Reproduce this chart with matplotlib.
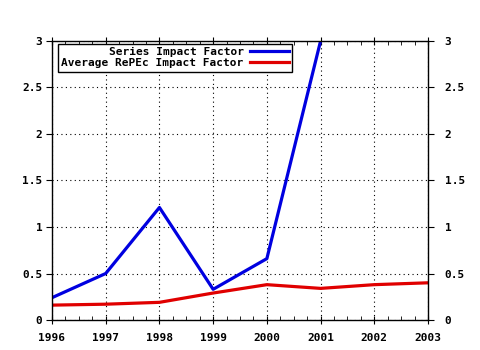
import numpy as np
import matplotlib.pyplot as plt
from matplotlib.ticker import MultipleLocator, FuncFormatter
from matplotlib.transforms import ScaledTranslation

# impact factor series by year
years = [1996, 1997, 1998, 1999, 2000, 2001, 2002, 2003]
series_if = [0.24, 0.50, 1.21, 0.33, 0.66, 3.0, np.nan, np.nan]
repec_if = [0.16, 0.17, 0.19, 0.29, 0.38, 0.34, 0.38, 0.40]
labels = ['Series Impact Factor', 'Average RePEc Impact Factor']

plt.rcParams['font.family'] = 'DejaVu Sans Mono'
plt.rcParams['font.weight'] = 'bold'
plt.rcParams['font.size'] = 8

fig = plt.figure(figsize=(4.8, 3.5), dpi=100)
ax = fig.add_axes([0.1083, 0.0857, 0.7834, 0.7972])

ax.plot(years, series_if, color='#0000e0', lw=2.3, label=labels[0])
ax.plot(years, repec_if, color='#e00000', lw=2.3, label=labels[1])

ax.set_xlim(1996, 2003)
ax.set_ylim(0, 3)
ax.xaxis.set_major_locator(MultipleLocator(1))
ax.xaxis.set_minor_locator(MultipleLocator(0.25))
ax.yaxis.set_major_locator(MultipleLocator(0.5))
ax.yaxis.set_major_formatter(FuncFormatter(lambda v, p: '%g' % v))
ax.xaxis.set_major_formatter(FuncFormatter(lambda v, p: '%d' % v))

ax.grid(True, which='major', color='black', linestyle=(0, (1, 3)), lw=0.8)
ax.tick_params(axis='x', which='major', direction='inout', length=6, top=True, pad=6.5)
ax.tick_params(axis='x', which='minor', direction='in', length=3, top=True)
ax.tick_params(axis='y', which='major', direction='out', length=4, pad=3,
               right=True, labelright=True)
for s in ax.spines.values():
    s.set_linewidth(1.0)

# push the right-hand labels a little further out than the left ones
shift = ScaledTranslation(5 / 72, 0, fig.dpi_scale_trans)
for t in ax.yaxis.get_major_ticks():
    t.label2.set_transform(t.label2.get_transform() + shift)

leg = ax.legend(loc='upper left', bbox_to_anchor=(0.016, 0.99), markerfirst=False,
                handlelength=3.5, handletextpad=0.6, borderpad=0.3,
                labelspacing=0.1, borderaxespad=0, fancybox=False,
                framealpha=1, edgecolor='black')
leg.get_frame().set_linewidth(1.0)

fig.savefig('out.png', dpi=100)
